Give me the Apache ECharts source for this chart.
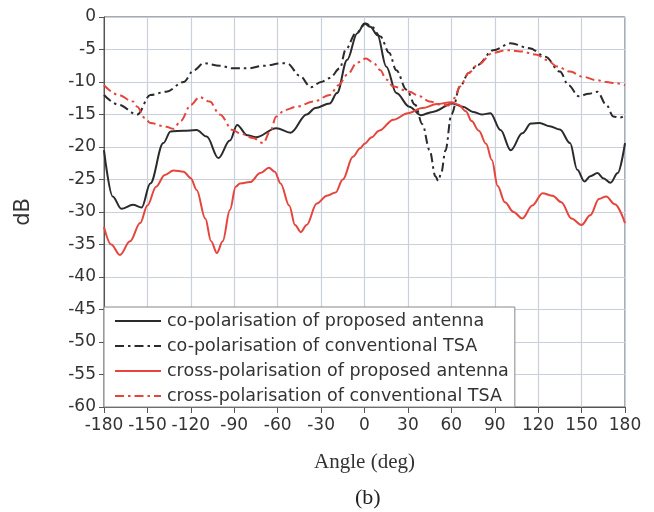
<!DOCTYPE html>
<html>
<head>
<meta charset="utf-8">
<script src="https://cdn.jsdelivr.net/npm/echarts@6/dist/echarts.min.js"></script>
<style>html,body{margin:0;padding:0;background:#fff;}#c{width:654px;height:512px;}</style>
</head>
<body>
<div id="c"></div>
<script>
const xTicks = [-180,-150,-120,-90,-60,-30,0,30,60,90,120,150,180];
const seriesNames = [
  'co-polarisation of proposed antenna',
  'co-polarisation of conventional TSA',
  'cross-polarisation of proposed antenna',
  'cross-polarisation of conventional TSA'
];
const coPropAngle = [-180,-174,-168,-160,-154,-148,-139,-134,-125,-116,-109,-101,-93,-88,-81,-75,-61,-51,-40,-34,-24,-19,-12,-5,0,4,9,15,22,31,39,47,61,68,75,81,87,94,101,109,115,121,128,135,142,147,152,156,161,165,170,175,180];
const coPropDb    = [-20.5,-27.6,-29.5,-28.9,-29.3,-25.6,-19.4,-17.6,-17.5,-17.4,-18.4,-21.7,-19,-16.6,-18.2,-18.5,-17.1,-17.8,-15,-14,-13.3,-11.7,-6.6,-2.5,-1,-1.5,-2.8,-7.6,-11.7,-13.8,-15.1,-14.6,-13.3,-13.8,-14.6,-15,-14.8,-17.4,-20.5,-17.9,-16.4,-16.3,-16.8,-17.3,-19.4,-23.5,-25.3,-24.5,-24,-24.8,-25.5,-24,-19.4];
const coConvAngle = [-180,-170,-157,-148,-137,-125,-118,-111,-100,-91,-80,-70,-56,-53,-45,-37,-30,-24,-17,-13,-6,1,5,11,17,22,29,35,40,45,49,51,53,56,60,66,72,78,89,101,114,125,135,141,148,155,161,167,172,176,180];
const coConvDb    = [-12,-13.5,-15,-12,-11.5,-10,-8.2,-7.1,-7.5,-7.9,-7.9,-7.5,-7.1,-7.2,-9,-10.8,-10,-9.4,-7.9,-5,-2.5,-1,-1.5,-3,-5.5,-8.2,-11.2,-13.5,-16.5,-20.5,-24.5,-25.2,-24,-20.5,-15,-10.7,-8.6,-7.4,-5.1,-4.05,-4.8,-6.1,-8.4,-10.5,-12.2,-11.8,-11.5,-13.5,-15.3,-15.5,-15.2];
const crossPropAngle = [-180,-175,-169,-162,-155,-150,-144,-138,-132,-125,-120,-116,-110,-106,-102,-98,-93,-89,-86,-79,-72,-66,-62,-58,-52,-48,-44,-40,-33,-26,-20,-15,-8,-3,0,5,10,20,30,40,50,60,65,70,74,79,84,88,92,97,103,109,116,123,130,136,143,150,156,162,167,173,180];
const crossPropDb    = [-32.3,-35,-36.6,-34.5,-31.7,-29,-26.1,-24.3,-23.6,-23.8,-24.8,-26.6,-31,-34.5,-36.3,-34.5,-29.7,-26.1,-25.6,-25.4,-24,-23.2,-23.8,-25.6,-29,-32,-33.1,-32,-28.7,-27.5,-27,-25,-21.5,-20.2,-19.5,-18.5,-17.5,-15.8,-14.8,-14,-13.4,-13.1,-13.5,-14.5,-16,-17.5,-19.5,-22,-26,-28.5,-30,-31,-29,-27.1,-27.5,-28.5,-31,-32,-30.5,-28,-27.6,-28.8,-31.7];
const crossConvAngle = [-180,-170,-160,-157,-152,-148,-137,-132,-127,-120,-114,-107,-100,-91,-86,-77,-70,-65,-61,-55,-47,-35,-24,-18,-12,-5,1,6,11,15,20,31,38,45,53,58,62,66,72,78,89,98,108,119,126,133,142,151,160,167,174,180];
const crossConvDb    = [-10.5,-12,-13,-13.8,-15.5,-16.3,-16.9,-17.2,-16,-13.5,-12.3,-13,-15,-17.4,-17.9,-18.6,-19.4,-17.5,-15.3,-14.3,-13.8,-13,-12,-10.5,-8.9,-7,-6.4,-7,-8.2,-9.6,-10.7,-11.5,-12.2,-13,-13.5,-13.6,-12.5,-10.7,-8.6,-7.4,-5.5,-5.1,-5.3,-5.8,-6.6,-7.6,-8.4,-9.2,-9.7,-10,-10.2,-10.5];

const pairs = (a, b) => a.map((x, i) => [x, b[i]]);
const BLACK = '#2b2b2b', RED = '#e5453d';
const DASHDOT = [9, 4, 2.5, 4];

const chart = echarts.init(document.getElementById('c'), null, {renderer: 'canvas'});
function mk(name, data, color, type) {
  return {
    name, type: 'line', data, showSymbol: false, symbol: 'none',
    smooth: 0.35, smoothMonotone: 'x',
    lineStyle: {color, width: 2, type},
    itemStyle: {color},
    z: 3
  };
}
chart.setOption({
  animation: false,
  backgroundColor: '#fff',
  title: {
    text: '(b)', left: 350, top: 482,
    textStyle: {fontFamily: 'Liberation Serif', fontSize: 22, fontWeight: 'normal', color: '#222'}
  },
  grid: {left: 104, right: 29, top: 17, bottom: 105, show: true, borderColor: '#555', borderWidth: 1, backgroundColor: 'transparent'},
  legend: {
    orient: 'vertical', left: 104, top: 307,
    data: seriesNames,
    backgroundColor: '#fff', borderColor: '#888', borderWidth: 1, borderRadius: 0,
    padding: [5, 6, 2, 10],
    itemWidth: 46, itemHeight: 14, itemGap: 7,
    itemStyle: {opacity: 0},
    textStyle: {fontFamily: 'DejaVu Sans', fontSize: 17.5, lineHeight: 18, color: '#333', padding: [0,0,0,1]}
  },
  xAxis: {
    type: 'value', min: -180, max: 180, interval: 30,
    name: 'Angle (deg)', nameLocation: 'middle', nameGap: 45,
    nameTextStyle: {fontFamily: 'Liberation Serif', fontSize: 21, color: '#333'},
    axisLine: {show: true, onZero: false, lineStyle: {color: '#555', width: 1}},
    axisTick: {show: true, inside: false, length: 6, lineStyle: {color: '#555'}},
    axisLabel: {fontFamily: 'DejaVu Sans', fontSize: 17, color: '#333', margin: 10, showMinLabel: true, showMaxLabel: true},
    splitLine: {show: true, lineStyle: {color: '#c9d0dc', width: 1.2}}
  },
  yAxis: {
    type: 'value', min: -60, max: 0, interval: 5,
    name: 'dB', nameLocation: 'middle', nameGap: 70,
    nameTextStyle: {fontFamily: 'DejaVu Sans', fontSize: 21, color: '#333'},
    axisLine: {show: true, onZero: false, lineStyle: {color: '#555', width: 1}},
    axisTick: {show: true, inside: false, length: 5, lineStyle: {color: '#555'}},
    axisLabel: {fontFamily: 'DejaVu Sans', fontSize: 17, color: '#333', margin: 8},
    splitLine: {show: true, lineStyle: {color: '#c9d0dc', width: 1.2}}
  },
  series: [
    mk(seriesNames[0], pairs(coPropAngle, coPropDb), BLACK, 'solid'),
    mk(seriesNames[1], pairs(coConvAngle, coConvDb), BLACK, DASHDOT),
    mk(seriesNames[2], pairs(crossPropAngle, crossPropDb), RED, 'solid'),
    mk(seriesNames[3], pairs(crossConvAngle, crossConvDb), RED, DASHDOT)
  ]
});
</script>
</body>
</html>
